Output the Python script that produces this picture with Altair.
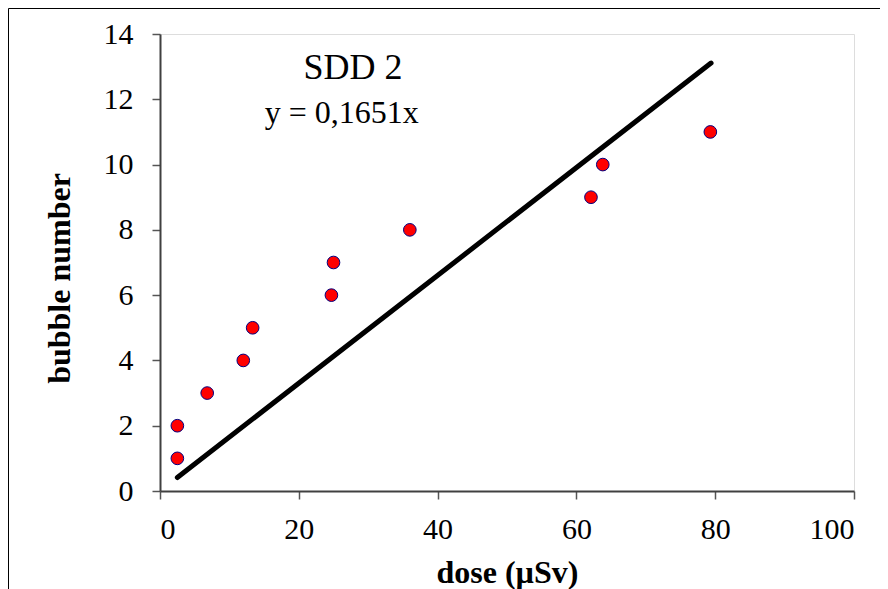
import altair as alt
import pandas as pd

dose = [2.5, 2.5, 6.8, 12.0, 13.35, 24.7, 25.0, 36.0, 62.1, 63.8, 79.3]
bubbles = [1, 2, 3, 4, 5, 6, 7, 8, 9, 10, 11]
slope = 0.1651
fit_x = [2.5, 79.4]
fit_y = [slope * v for v in fit_x]

ann_text = ["SDD 2", "y = 0,1651x"]
ann_x = [27.8, 26.2]
ann_y = [12.62, 11.27]
ann_size = [36, 32]

W, H = 694, 457
FONT = "Liberation Serif"

pts = pd.DataFrame({"dose": dose, "bubbles": bubbles})
fit = pd.DataFrame({"dose": fit_x, "bubbles": fit_y})
ann = pd.DataFrame({"t": ann_text, "x": ann_x, "y": ann_y, "s": ann_size})

xs = alt.Scale(domain=[0, 100], nice=False, zero=True)
ys = alt.Scale(domain=[0, 14], nice=False, zero=True)

xaxis = alt.Axis(values=[0, 20, 40, 60, 80, 100], title="dose (µSv)", grid=False,
                 labelFont=FONT, labelFontSize=30, labelColor="black", labelPadding=15,
                 tickSize=8, tickColor="#555555", tickWidth=1.5,
                 domainColor="#404040", domainWidth=2,
                 titleFont=FONT, titleFontSize=32, titleFontWeight="bold", titleColor="black",
                 titleBaseline="alphabetic", titleY=91)
yaxis = alt.Axis(values=[0, 2, 4, 6, 8, 10, 12, 14], title="bubble number", grid=False,
                 labelFont=FONT, labelFontSize=30, labelColor="black", labelPadding=19,
                 tickSize=8, tickColor="#555555", tickWidth=1.5,
                 domainColor="#404040", domainWidth=2,
                 titleFont=FONT, titleFontSize=32, titleFontWeight="bold", titleColor="black",
                 titleBaseline="alphabetic", titleAngle=-90, titleX=-91, titleY=244)

frame = alt.Chart(pd.DataFrame({"a": [0]})).mark_rect(
    fill=None, stroke="black", strokeWidth=1
).encode(x=alt.value(-151.5), x2=alt.value(W + 200), y=alt.value(-25.5), y2=alt.value(H + 300))

line = alt.Chart(fit).mark_line(color="black", strokeWidth=5, strokeCap="round").encode(
    x=alt.X("dose:Q", scale=xs, axis=xaxis),
    y=alt.Y("bubbles:Q", scale=ys, axis=yaxis),
)

points = alt.Chart(pts).mark_point(
    shape="circle", filled=True, fill="#ff0000", stroke="#000080", strokeWidth=1,
    size=160, opacity=1
).encode(
    x=alt.X("dose:Q", scale=xs),
    y=alt.Y("bubbles:Q", scale=ys),
)

text = alt.Chart(ann).mark_text(font=FONT, color="black", align="center", baseline="alphabetic").encode(
    x=alt.X("x:Q", scale=xs),
    y=alt.Y("y:Q", scale=ys),
    text="t:N",
    size=alt.Size("s:Q", scale=None, legend=None),
)

chart = alt.layer(frame, line, points, text).properties(
    width=W, height=H,
    autosize=alt.AutoSizeParams(type="none"),
    padding={"left": 152, "top": 26, "right": 26, "bottom": 98},
).configure_view(stroke="#7a7a7a", strokeWidth=2).configure(background="white")

chart.save("out.html", embed_options={"renderer": "svg", "actions": False})
